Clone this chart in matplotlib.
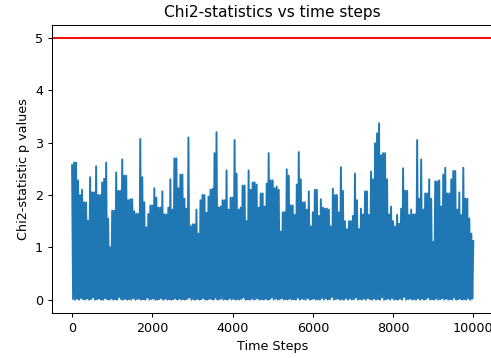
import matplotlib
matplotlib.use("Agg")
import matplotlib.pyplot as plt

# local peak values, one every 50 time steps (0 .. 10000)
peaks = [
    2.57, 2.62, 2.62, 2.28, 2.0, 2.1, 1.86, 1.86, 1.51, 2.34,
    2.05, 2.05, 2.55, 2.0, 2.0, 2.24, 2.31, 2.62, 1.55, 1.0,
    1.7, 1.7, 2.43, 2.08, 2.08, 2.68, 2.37, 2.37, 1.9, 1.92,
    1.92, 1.69, 1.64, 1.64, 3.07, 2.34, 1.86, 1.38, 1.64, 1.8,
    1.8, 2.13, 1.95, 1.76, 1.76, 2.07, 1.63, 1.63, 1.76, 2.3,
    1.72,
    2.7, 2.7, 2.13, 2.39, 2.39, 1.93, 1.74, 3.1, 1.4, 1.44,
    1.44, 1.72, 1.26, 1.9, 2.0, 2.0, 1.66, 1.97, 2.1, 2.12,
    2.8, 3.2, 1.76, 1.78, 1.9, 1.9, 2.47, 1.72, 1.95, 1.95,
    3.05, 2.41, 1.72, 1.76, 2.18, 2.18, 1.5, 2.47, 2.1, 2.24,
    2.24, 2.2, 1.76, 2.03, 2.03, 1.78, 2.22, 2.8, 2.28, 2.28,
    2.13, 2.16, 2.1, 1.3, 1.67, 1.67, 2.49, 2.37, 1.8, 1.8,
    1.62, 2.2, 2.82, 2.3, 1.86, 1.86, 1.72, 2.07, 1.4, 1.67,
    2.1, 2.1, 1.6, 1.92, 1.76, 1.74, 1.74, 1.72, 1.4, 2.12,
    2.0, 2.0, 1.67, 2.53, 2.08, 1.5, 1.35, 1.5, 1.5, 1.6,
    2.41, 1.9, 1.35, 1.74, 1.63, 2.07, 2.07, 1.62, 2.45, 2.3,
    2.99, 3.18, 3.37, 2.76, 2.8, 2.8, 2.3, 1.63, 1.78, 1.5,
    1.4, 1.62, 1.45, 1.74, 2.51, 2.08, 2.08, 1.62, 1.72, 1.63,
    1.63, 3.05, 1.93, 2.68, 1.72, 2.03, 2.03, 2.3, 1.93, 1.1,
    2.26, 2.26, 2.28, 1.78, 2.39, 2.52, 2.03, 2.03, 2.3, 2.46,
    2.46, 1.72, 2.05, 1.62, 2.52, 1.93, 1.93, 1.55, 1.26, 1.12,
]

# low values between the peaks (the bottom edge of the band)
troughs = [
    0.01, 0.0, 0.02, 0.0, 0.03, 0.01, 0.0, 0.02, 0.0, 0.01,
    0.04, 0.0, 0.01, 0.02, 0.0, 0.0, 0.03, 0.01, 0.0, 0.02,
    0.0, 0.01, 0.0, 0.05, 0.01, 0.0, 0.02, 0.0, 0.01, 0.0,
    0.03, 0.0, 0.01, 0.02, 0.0, 0.01, 0.0, 0.04, 0.0, 0.01,
    0.02, 0.0, 0.0, 0.01, 0.03, 0.0, 0.02, 0.0, 0.01, 0.0,
    0.01, 0.03, 0.0, 0.02, 0.0, 0.01, 0.0, 0.02, 0.04, 0.0,
    0.01, 0.0, 0.02, 0.0, 0.01, 0.03, 0.0, 0.0, 0.02, 0.01,
    0.0, 0.04, 0.0, 0.01, 0.02, 0.0, 0.01, 0.0, 0.03, 0.0,
    0.02, 0.0, 0.01, 0.0, 0.02, 0.05, 0.0, 0.01, 0.0, 0.02,
    0.0, 0.01, 0.03, 0.0, 0.01, 0.0, 0.02, 0.0, 0.01, 0.04,
    0.0, 0.02, 0.0, 0.01, 0.03, 0.0, 0.01, 0.0, 0.02, 0.0,
    0.01, 0.0, 0.04, 0.0, 0.02, 0.01, 0.0, 0.03, 0.0, 0.01,
    0.02, 0.0, 0.01, 0.0, 0.03, 0.0, 0.02, 0.0, 0.01, 0.05,
    0.0, 0.01, 0.02, 0.0, 0.01, 0.0, 0.03, 0.0, 0.02, 0.0,
    0.01, 0.04, 0.0, 0.01, 0.0, 0.02, 0.0, 0.03, 0.01, 0.0,
    0.02, 0.0, 0.01, 0.0, 0.04, 0.0, 0.01, 0.02, 0.0, 0.03,
    0.0, 0.01, 0.0, 0.02, 0.0, 0.05, 0.0, 0.01, 0.02, 0.0,
    0.01, 0.0, 0.03, 0.0, 0.02, 0.0, 0.01, 0.04, 0.0, 0.01,
    0.0, 0.02, 0.0, 0.01, 0.03, 0.0, 0.02, 0.0, 0.01, 0.0,
    0.04, 0.0, 0.01, 0.02, 0.0, 0.01, 0.0, 0.03, 0.0, 0.02,
]

PEAK_STEP = 50
THRESHOLD = 5
DPI = 92


def build_series():
    steps = []
    values = []
    for i, p in enumerate(peaks):
        steps.append(i * PEAK_STEP)
        values.append(p)
        if i < len(troughs):
            steps.append(i * PEAK_STEP + PEAK_STEP // 2)
            values.append(troughs[i])
    return steps, values


def main():
    steps, values = build_series()

    fig = plt.figure(figsize=(491 / DPI, 358 / DPI), dpi=DPI)
    ax = fig.add_axes([0.1059, 0.1265, 0.899, 0.8037])
    ax.plot(steps, values, color="#1f77b4")
    ax.axhline(THRESHOLD, color="red")
    ax.set_xlabel("Time Steps")
    ax.set_ylabel("Chi2-statistic p values")
    ax.set_title("Chi2-statistics vs time steps")
    ax.set_xlim(-500, 10500)
    ax.set_ylim(-0.25, 5.25)
    ax.set_xticks([0, 2000, 4000, 6000, 8000, 10000])
    ax.set_yticks([0, 1, 2, 3, 4, 5])
    fig.savefig("out.png", dpi=DPI)


if __name__ == "__main__":
    main()
